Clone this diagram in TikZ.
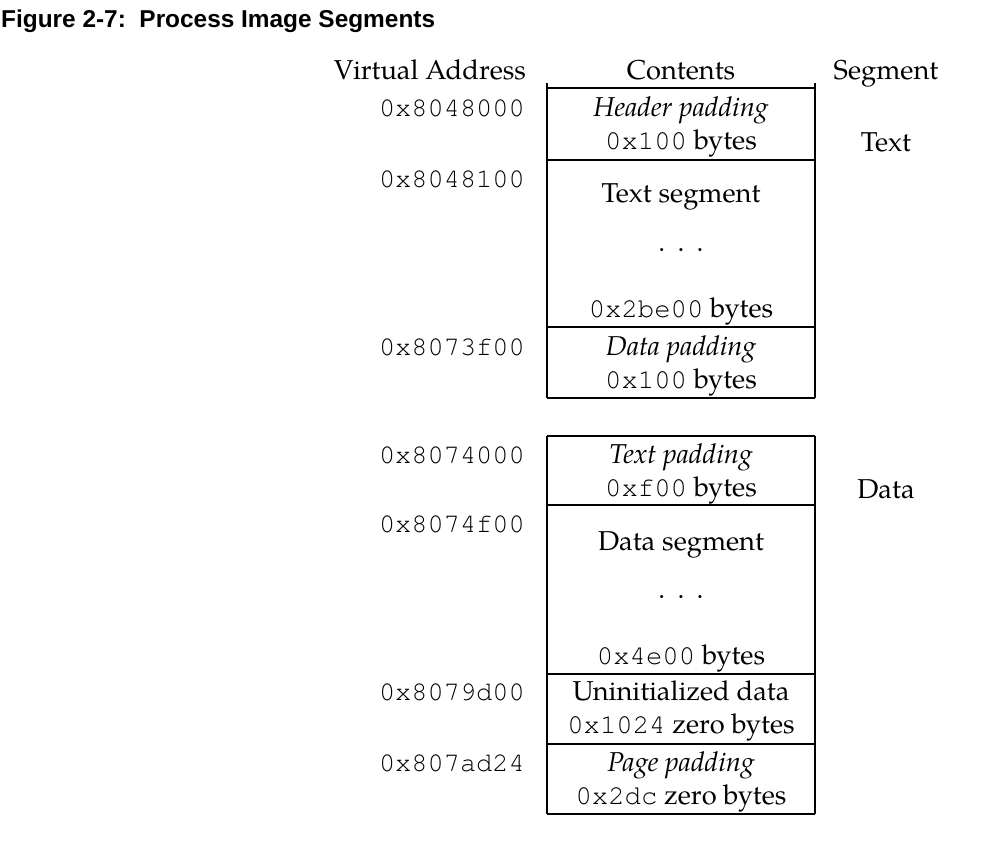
\documentclass[tikz,border=0pt]{standalone}
\usepackage{fontspec}
\setmainfont{TeX Gyre Pagella}
\setmonofont{TeX Gyre Cursor}
\newfontfamily\titlefont{Liberation Sans}
\newcommand{\vdotsrow}{.\hspace{0.45em}.\hspace{0.45em}.}
\begin{document}
\begin{tikzpicture}[x=1pt,y=-1pt,
        txt/.style={inner sep=0pt,anchor=base,yshift=-2pt,font=\fontsize{27.3}{32}\selectfont},
        addr/.style={inner sep=0pt,anchor=base east,yshift=-2pt,font=\fontsize{27}{32}\ttfamily},
        rule/.style={line width=1.1pt}]
    \useasboundingbox (0,0) rectangle (1006,852);
    % title
    \node[inner sep=0pt,anchor=base west,font=\fontsize{24.4}{28}\titlefont\bfseries] (title) at (1,27) {Figure 2-7:\ \ Process Image Segments};
    % column heads
    \node[txt] (hdaddr) at (430,77) {Virtual Address};
    \node[txt] (hdcont) at (681,77) {Contents};
    \node[txt] (hdseg) at (886,77) {Segment};
    % text segment box
    \draw[rule] (547,83) -- (547,398);
    \draw[rule] (815,83) -- (815,398);
    \foreach \y in {88,160,327,398}
        \draw[rule] (547,\y) -- (815,\y);
    % data segment box
    \draw[rule] (547,436) -- (547,814);
    \draw[rule] (815,436) -- (815,814);
    \foreach \y in {436,505,674,744,814}
        \draw[rule] (547,\y) -- (815,\y);
    % addresses
    \node[addr] (atext) at (525,114.5) {0x8048000};
    \node[addr] (atextseg) at (525,185.5) {0x8048100};
    \node[addr] (adatapad) at (525,353.5) {0x8073f00};
    \node[addr] (atextpad) at (525,461.5) {0x8074000};
    \node[addr] (adataseg) at (525,530.5) {0x8074f00};
    \node[addr] (abss) at (525,698.5) {0x8079d00};
    \node[addr] (apagepad) at (525,769.5) {0x807ad24};
    % contents
    \node[txt] (hdrpad) at (681,114) {\textit{Header padding}};
    \node[txt] (hdrpadsz) at (681,147) {\texttt{0x100} bytes};
    \node[txt] (textseg) at (681,200) {Text segment};
    \node[txt] (textdots) at (681,249) {\vdotsrow};
    \node[txt] (textsegsz) at (681,315) {\texttt{0x2be00} bytes};
    \node[txt] (datapad) at (681,353) {\textit{Data padding}};
    \node[txt] (datapadsz) at (681,386) {\texttt{0x100} bytes};
    \node[txt] (textpad) at (681,461) {\textit{Text padding}};
    \node[txt] (textpadsz) at (681,494) {\texttt{0xf00} bytes};
    \node[txt] (dataseg) at (681,548) {Data segment};
    \node[txt] (datadots) at (681,596) {\vdotsrow};
    \node[txt] (datasegsz) at (681,662) {\texttt{0x4e00} bytes};
    \node[txt] (bss) at (681,698) {Uninitialized data};
    \node[txt] (bsssz) at (681,731) {\texttt{0x1024} zero bytes};
    \node[txt] (pagepad) at (681,769) {\textit{Page padding}};
    \node[txt] (pagepadsz) at (681,802) {\texttt{0x2dc} zero bytes};
    % segment names
    \node[txt] (segtext) at (886,149) {Text};
    \node[txt] (segdata) at (886,496) {Data};
\end{tikzpicture}
\end{document}
